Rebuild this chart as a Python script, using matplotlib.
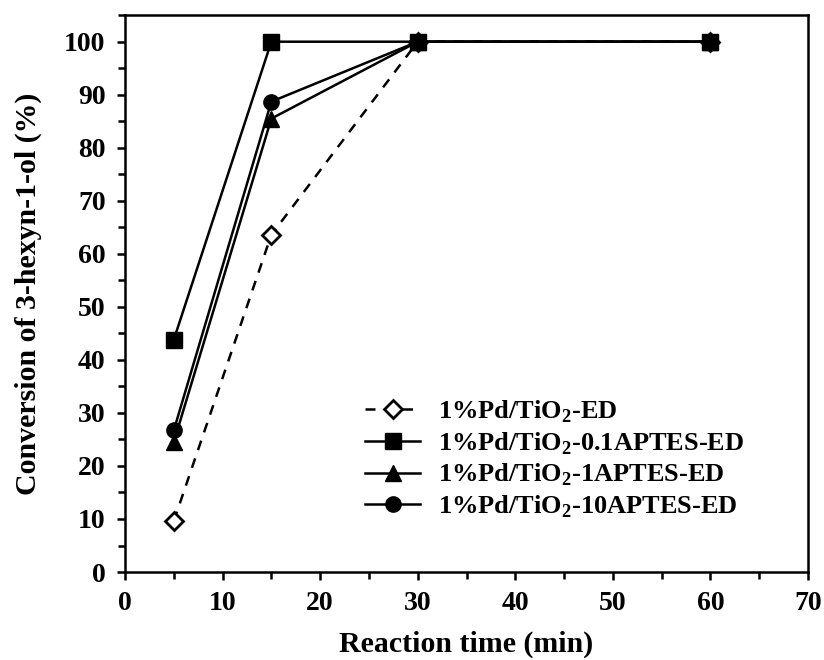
import matplotlib
matplotlib.use("Agg")
import matplotlib.pyplot as plt
from matplotlib.ticker import MultipleLocator

plt.rcParams['font.family'] = ['Liberation Serif', 'DejaVu Serif']
plt.rcParams['font.weight'] = 'bold'
plt.rcParams['mathtext.fontset'] = 'custom'
plt.rcParams['mathtext.rm'] = 'Liberation Serif:bold'
plt.rcParams['mathtext.bf'] = 'Liberation Serif:bold'

# Reaction time (min) and conversion (%) for each catalyst
times = [5, 15, 30, 60]
conv_ed = [9.6, 63.6, 100, 100]
conv_01aptes = [43.8, 100, 100, 100]
conv_1aptes = [24.5, 85.5, 100, 100]
conv_10aptes = [26.7, 88.7, 100, 100]

labels = [
    r'1%Pd/TiO$_{\mathrm{2}}$-ED',
    r'1%Pd/TiO$_{\mathrm{2}}$-0.1APTES-ED',
    r'1%Pd/TiO$_{\mathrm{2}}$-1APTES-ED',
    r'1%Pd/TiO$_{\mathrm{2}}$-10APTES-ED',
]

fig = plt.figure(figsize=(8.24, 6.6), dpi=100)
ax = fig.add_axes([0.1517, 0.1333, 0.9806 - 0.1517, 0.977 - 0.1333])

lw = 1.8
ax.plot(times, conv_ed, color='black', lw=lw, ls=(0, (4, 3.5)), marker='D',
        ms=9, mfc='white', mec='black', mew=2, label=labels[0])
ax.plot(times, conv_01aptes, color='black', lw=lw, marker='s', ms=11,
        label=labels[1])
ax.plot(times, conv_1aptes, color='black', lw=lw, marker='^', ms=12,
        label=labels[2])
ax.plot(times, conv_10aptes, color='black', lw=lw, marker='o', ms=11,
        label=labels[3])

ax.set_xlim(0, 70)
ax.set_ylim(0, 105)
ax.xaxis.set_major_locator(MultipleLocator(10))
ax.xaxis.set_minor_locator(MultipleLocator(5))
ax.yaxis.set_major_locator(MultipleLocator(10))
ax.yaxis.set_minor_locator(MultipleLocator(5))
ax.tick_params(which='major', direction='out', length=6, width=1.8,
               labelsize=20, pad=8)
ax.tick_params(which='minor', direction='out', length=5, width=1.8)
ax.tick_params(top=False, right=False, which='both')
for s in ax.spines.values():
    s.set_linewidth(1.8)

ax.set_xlabel('Reaction time (min)', fontsize=21.5, fontweight='bold',
              labelpad=10)
ax.set_ylabel('Conversion of 3-hexyn-1-ol (%)', fontsize=21.5,
              fontweight='bold', labelpad=16)

ax.legend(loc='upper left', bbox_to_anchor=(0.336, 0.331), frameon=False,
          fontsize=19, handlelength=2.1, labelspacing=0.2,
          handletextpad=0.65, borderaxespad=0)

fig.savefig('out.png', dpi=100)
